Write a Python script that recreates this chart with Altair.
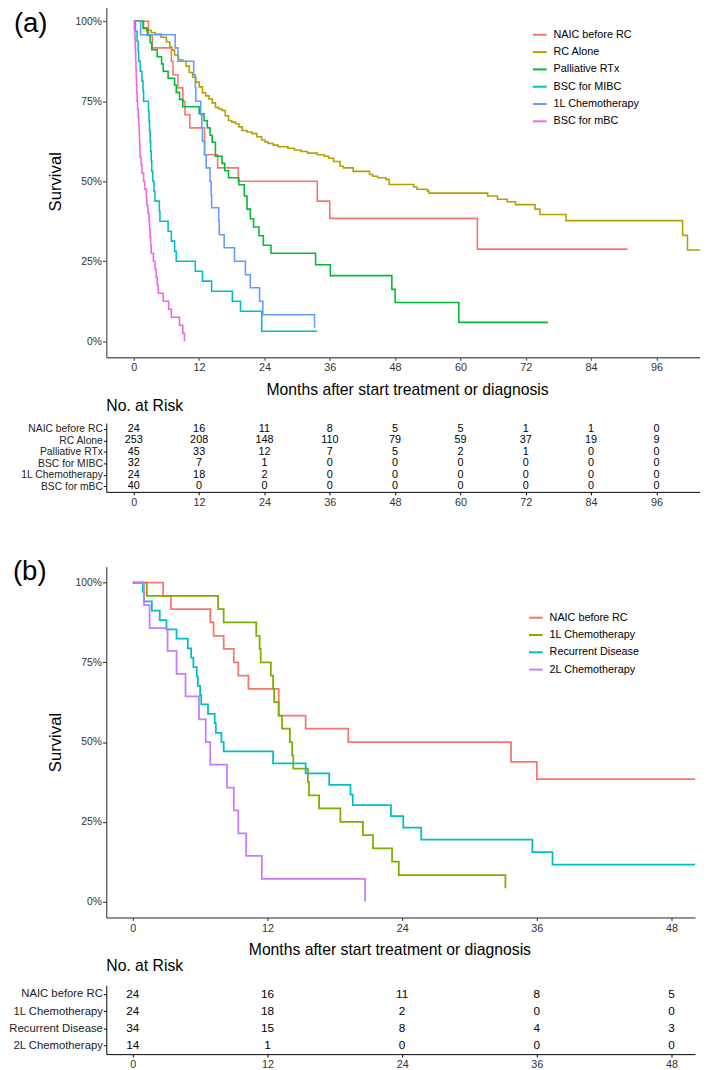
import altair as alt
import pandas as pd

FONT = "Liberation Sans"

# ---------------- Panel (a) data ----------------
groups_a = ["NAIC before RC", "RC Alone", "Palliative RTx", "BSC for MIBC", "1L Chemotherapy", "BSC for mBC"]
colors_a = ["#F8766D", "#B79F00", "#00BA38", "#00BFC4", "#619CFF", "#F564E3"]

naic_t = [0, 2.7, 3.4, 6.9, 7.2, 8.1, 9.0, 9.4, 10.3, 13.0, 15.4, 19.2, 33.7, 36.0, 63.1, 90.7]
naic_s = [1.0, 0.958, 0.917, 0.875, 0.833, 0.792, 0.75, 0.708, 0.667, 0.583, 0.542, 0.5, 0.438, 0.384, 0.288, 0.288]

rc_t = [0, 1.8, 2.4, 3.2, 3.9, 5.0, 6.0, 6.6, 7.0, 7.5, 8.2, 9.0, 9.6, 10.2, 10.8, 11.4, 12.0, 12.6, 13.2, 13.8,
        14.4, 15.0, 15.6, 16.2, 16.8, 17.4, 18.0, 18.7, 19.3, 19.9, 20.8, 21.7, 22.6, 23.5, 24.1, 24.7, 25.6, 26.5,
        28.3, 29.5, 30.7, 31.9, 33.7, 35.0, 35.8, 36.7, 37.9, 38.5, 40.3, 43.3, 43.9, 44.8, 46.3, 46.9, 51.4, 52.0,
        53.9, 54.2, 65.0, 66.8, 68.6, 70.1, 73.7, 74.6, 79.4, 100.8, 101.7, 104.0]
rc_s = [1.0, 0.98, 0.972, 0.965, 0.96, 0.95, 0.936, 0.92, 0.91, 0.895, 0.88, 0.875, 0.86, 0.84, 0.825, 0.81, 0.795,
        0.777, 0.767, 0.757, 0.745, 0.731, 0.726, 0.721, 0.705, 0.69, 0.685, 0.68, 0.67, 0.659, 0.654, 0.649, 0.639,
        0.629, 0.623, 0.618, 0.613, 0.608, 0.603, 0.598, 0.593, 0.588, 0.583, 0.578, 0.572, 0.562, 0.547, 0.542,
        0.531, 0.521, 0.516, 0.511, 0.506, 0.49, 0.482, 0.475, 0.47, 0.463, 0.454, 0.444, 0.436, 0.427, 0.413,
        0.396, 0.377, 0.331, 0.285, 0.285]

rtx_t = [0, 1.7, 2.5, 3.0, 3.3, 4.3, 5.1, 5.4, 6.3, 7.5, 7.8, 8.4, 9.0, 12.0, 12.9, 13.5, 14.0, 14.4, 15.0, 16.2,
         16.7, 17.4, 19.3, 20.3, 20.8, 21.4, 22.0, 23.0, 23.8, 25.2, 33.4, 36.1, 47.4, 48.0, 59.7, 76.1]
rtx_s = [1.0, 0.978, 0.956, 0.933, 0.911, 0.889, 0.867, 0.844, 0.822, 0.8, 0.778, 0.756, 0.733, 0.711, 0.689, 0.667,
         0.644, 0.622, 0.578, 0.556, 0.533, 0.511, 0.489, 0.454, 0.413, 0.383, 0.357, 0.33, 0.3, 0.275, 0.239, 0.205,
         0.162, 0.121, 0.059, 0.059]

mibc_t = [0, 0.3, 0.6, 0.8, 0.9, 1.2, 1.5, 1.7, 1.8, 2.7, 2.8, 2.9, 3.0, 3.1, 3.2, 3.3, 3.5, 3.7, 3.9, 4.7, 4.8,
          6.3, 6.9, 7.5, 7.8, 11.3, 12.6, 14.3, 18.1, 19.6, 23.5, 33.7]
mibc_s = [1.0, 0.969, 0.938, 0.906, 0.875, 0.844, 0.813, 0.781, 0.75, 0.719, 0.688, 0.656, 0.625, 0.594, 0.563,
          0.531, 0.5, 0.469, 0.438, 0.406, 0.375, 0.344, 0.313, 0.281, 0.25, 0.219, 0.188, 0.156, 0.125, 0.094,
          0.031, 0.031]

l1_t = [0, 1.25, 7.6, 8.1, 11.0, 11.3, 11.4, 12.3, 12.5, 12.6, 13.0, 13.3, 14.0, 14.2, 14.3, 15.6, 15.7, 16.6,
        18.5, 20.5, 21.4, 23.1, 23.7, 33.2]
l1_s = [1.0, 0.958, 0.917, 0.875, 0.833, 0.792, 0.75, 0.708, 0.667, 0.625, 0.583, 0.542, 0.5, 0.458, 0.417, 0.375,
        0.333, 0.292, 0.25, 0.208, 0.167, 0.125, 0.083, 0.042]

mbc_t = [0, 0.1, 0.2, 0.25, 0.3, 0.35, 0.4, 0.45, 0.5, 0.55, 0.6, 0.7, 0.8, 0.9, 1.0, 1.05, 1.1, 1.15, 1.35, 1.5,
         1.8, 2.0, 2.3, 2.4, 2.6, 2.8, 2.9, 3.0, 3.1, 3.2, 3.6, 3.9, 4.1, 4.3, 4.5, 5.4, 6.4, 6.9, 8.4, 9.0, 9.3]
mbc_s = [1.0, 0.975, 0.95, 0.925, 0.9, 0.875, 0.85, 0.825, 0.8, 0.775, 0.75, 0.725, 0.7, 0.675, 0.65, 0.625, 0.6,
         0.575, 0.55, 0.525, 0.5, 0.475, 0.45, 0.425, 0.4, 0.375, 0.35, 0.325, 0.3, 0.275, 0.25, 0.225, 0.2, 0.175,
         0.15, 0.125, 0.1, 0.075, 0.05, 0.025, 0.0]

risk_times_a = [0, 12, 24, 36, 48, 60, 72, 84, 96]
risk_naic_a = [24, 16, 11, 8, 5, 5, 1, 1, 0]
risk_rc_a = [253, 208, 148, 110, 79, 59, 37, 19, 9]
risk_rtx_a = [45, 33, 12, 7, 5, 2, 1, 0, 0]
risk_mibc_a = [32, 7, 1, 0, 0, 0, 0, 0, 0]
risk_l1_a = [24, 18, 2, 0, 0, 0, 0, 0, 0]
risk_mbc_a = [40, 0, 0, 0, 0, 0, 0, 0, 0]

# ---------------- Panel (b) data ----------------
groups_b = ["NAIC before RC", "1L Chemotherapy", "Recurrent Disease", "2L Chemotherapy"]
colors_b = ["#F8766D", "#7CAE00", "#00BFC4", "#C77CFF"]

rec_t = [0, 0.9, 1.0, 1.7, 2.4, 3.0, 3.9, 4.9, 5.2, 5.4, 5.7, 5.8, 6.0, 6.1, 6.7, 7.3, 7.4, 7.9, 8.1, 12.5, 15.4,
         17.5, 19.4, 19.6, 23.0, 24.1, 25.7, 35.6, 37.4, 50.4]
rec_s = [1.0, 0.971, 0.941, 0.912, 0.882, 0.853, 0.824, 0.794, 0.765, 0.735, 0.706, 0.676, 0.647, 0.618, 0.588,
         0.559, 0.529, 0.5, 0.471, 0.433, 0.402, 0.366, 0.335, 0.302, 0.268, 0.232, 0.194, 0.155, 0.116, 0.116]

l2_t = [0, 1.0, 1.5, 3.1, 3.9, 4.7, 5.9, 6.5, 6.9, 8.4, 9.0, 9.4, 10.1, 11.5, 20.7]
l2_s = [1.0, 0.929, 0.857, 0.786, 0.714, 0.643, 0.571, 0.5, 0.429, 0.357, 0.286, 0.214, 0.143, 0.071, 0.0]

risk_times_b = [0, 12, 24, 36, 48]
risk_naic_b = [24, 16, 11, 8, 5]
risk_l1_b = [24, 18, 2, 0, 0]
risk_rec_b = [34, 15, 8, 4, 3]
risk_l2_b = [14, 1, 0, 0, 0]

panel_labels = ["(a)", "(b)"]
x_title = "Months after start treatment or diagnosis"
risk_title = "No. at Risk"
y_ticks = [0, 0.25, 0.5, 0.75, 1.0]


def curves(groups, tlist, slist):
    frames = [pd.DataFrame({"group": g, "t": t, "s": s}) for g, t, s in zip(groups, tlist, slist)]
    return pd.concat(frames, ignore_index=True)


def risk(groups, times, nlist):
    frames = [pd.DataFrame({"group": g, "t": times, "n": n}) for g, n in zip(groups, nlist)]
    return pd.concat(frames, ignore_index=True)


df_a = curves(groups_a, [naic_t, rc_t, rtx_t, mibc_t, l1_t, mbc_t], [naic_s, rc_s, rtx_s, mibc_s, l1_s, mbc_s])
df_b = curves(groups_b, [naic_t, l1_t, rec_t, l2_t], [naic_s, l1_s, rec_s, l2_s])
rk_a = risk(groups_a, risk_times_a, [risk_naic_a, risk_rc_a, risk_rtx_a, risk_mibc_a, risk_l1_a, risk_mbc_a])
rk_b = risk(groups_b, risk_times_b, [risk_naic_b, risk_l1_b, risk_rec_b, risk_l2_b])

ydom = [-0.05, 1.05]


def km_panel(df, groups, colors, dom, ticks, width, height, label, lab_x, lab_y, leg_x, leg_y,
             axcol, axw, lw, title_x, ytitle_pad):
    xaxis = alt.Axis(values=ticks, title=x_title, grid=False, domainColor=axcol, domainWidth=axw,
                     tickColor=axcol, tickWidth=axw, tickSize=3, labelColor="#333333", labelFontSize=11,
                     labelPadding=2, titleFontSize=16, titlePadding=9, titleColor="black",
                     titleFontWeight="normal", titleX=title_x)
    yaxis = alt.Axis(values=y_ticks, format=".0%", title="Survival", grid=False, domainColor=axcol,
                     domainWidth=axw, tickColor=axcol, tickWidth=axw, tickSize=4, labelColor="#333333",
                     labelFontSize=10.5, labelPadding=1, titleFontSize=17, titlePadding=ytitle_pad,
                     titleColor="black", titleFontWeight="normal")
    lines = alt.Chart(df).mark_line(interpolate="step-after", strokeWidth=lw, clip=True).encode(
        x=alt.X("t:Q", scale=alt.Scale(domain=dom, nice=False, zero=False), axis=xaxis),
        y=alt.Y("s:Q", scale=alt.Scale(domain=ydom, nice=False, zero=False), axis=yaxis),
        color=alt.Color("group:N", scale=alt.Scale(domain=groups, range=colors),
                        legend=alt.Legend(title=None, orient="none", legendX=leg_x, legendY=leg_y,
                                          symbolType="stroke", symbolSize=196, symbolStrokeWidth=2,
                                          labelFontSize=11, labelOffset=6, rowPadding=4.6, padding=0,
                                          labelColor="black")),
    )
    lab = alt.Chart(pd.DataFrame({"lab": [label]})).mark_text(
        align="left", baseline="middle", fontSize=28, color="black").encode(
        x=alt.value(lab_x), y=alt.value(lab_y), text="lab:N")
    return alt.layer(lines, lab).properties(width=width, height=height)


def risk_table(df, groups, dom, ticks, width, height, fsize, lsize, toff):
    return alt.Chart(df).mark_text(fontSize=fsize, color="black").encode(
        x=alt.X("t:Q", scale=alt.Scale(domain=dom, nice=False, zero=False),
                axis=alt.Axis(values=ticks, title=None, grid=False, domainColor="black", tickColor="black",
                              tickSize=3, labelFontSize=11, labelPadding=2, labelColor="#333333")),
        y=alt.Y("group:N", sort=groups,
                axis=alt.Axis(title=None, grid=False, domainColor="black", tickColor="black", tickSize=3,
                              labelPadding=1, labelFontSize=lsize, labelColor="#222222")),
        text="n:Q",
    ).properties(width=width, height=height,
                 title=alt.TitleParams(risk_title, anchor="start", frame="group", fontSize=16,
                                       fontWeight="normal", offset=toff, color="black"))


W_A, W_B = 604, 599
dom_a = [-5.05, 104.0]
dom_b = [-2.36, 50.1]

plot_a = km_panel(df_a, groups_a, colors_a, dom_a, risk_times_a, W_A, 358, panel_labels[0], -94, 19, 433, 22,
                  "#666666", 1.4, 1.6, 306, 11)
tab_a = risk_table(rk_a, groups_a, dom_a, risk_times_a, W_A, 70, 11, 10.5, 9)
plot_b = km_panel(df_b, groups_b, colors_b, dom_b, risk_times_b, W_B, 357, panel_labels[1], -95, 6, 429, 44,
                  "#222222", 1.0, 1.8, 288, 11)
tab_b = risk_table(rk_b, groups_b, dom_b, risk_times_b, W_B, 70, 12, 11.5, 12)

chart = alt.vconcat(
    alt.vconcat(plot_a, tab_a, spacing=0),
    alt.vconcat(plot_b, tab_b, spacing=0),
    spacing=52,
).resolve_scale(color="independent").properties(
    padding={"top": -12, "left": 0, "right": 0, "bottom": 0}
).configure(font=FONT).configure_view(stroke=None).configure_title(font=FONT)

chart.save("out.html", embed_options={"renderer": "svg", "actions": False})
